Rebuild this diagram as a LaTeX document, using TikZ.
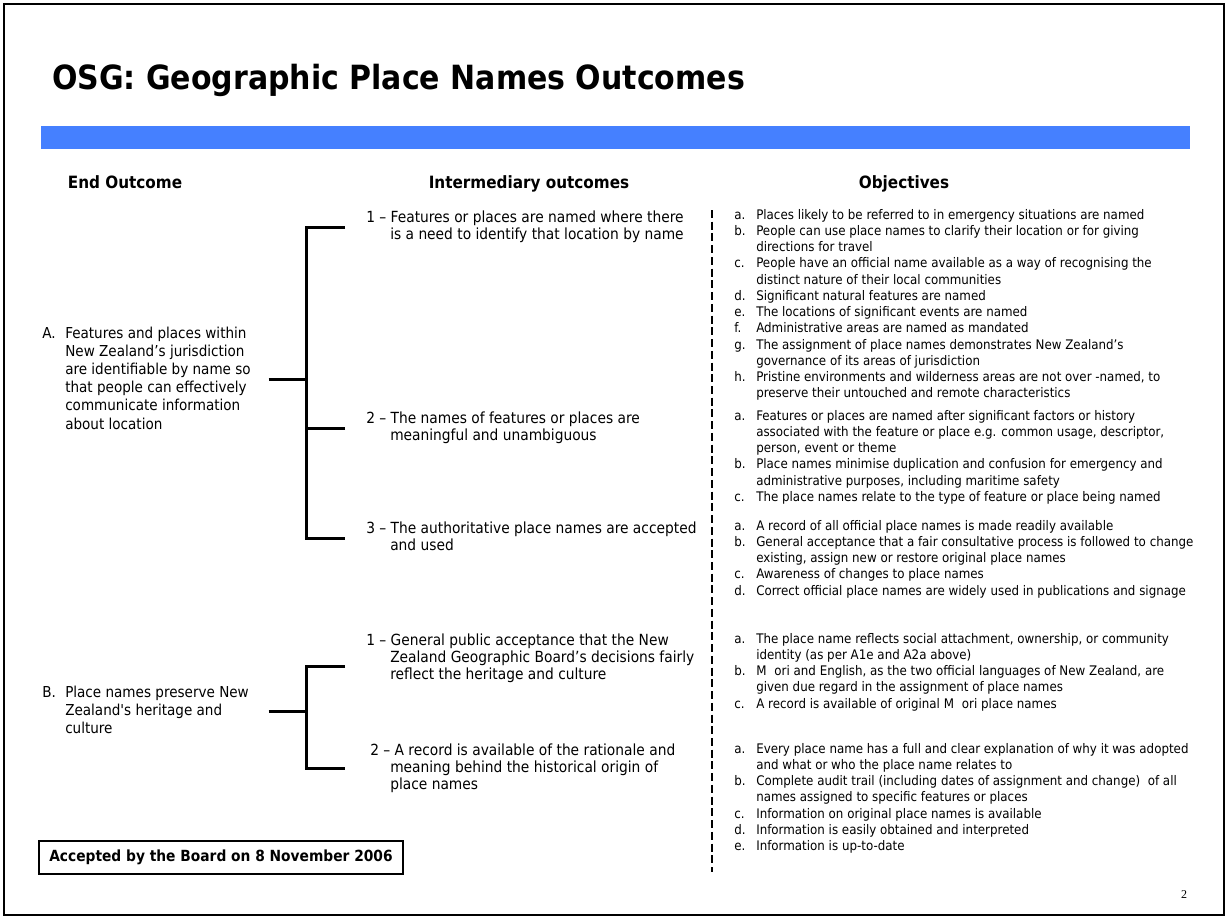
\documentclass[tikz,border=0pt]{standalone}
\usepackage{fontspec}
\newfontfamily\bodyFont{DejaVu Sans Condensed}
\newfontfamily\pageNumFont{Liberation Serif}
\usetikzlibrary{positioning}
\definecolor{mainBlack}{gray}{0}
\definecolor{osgBlue}{HTML}{4580FF}
\newcommand{\itm}[1]{\makebox[16.5pt][l]{#1}}
\newcommand{\outItm}[1]{\makebox[17.25pt][l]{#1}}
\newcommand{\rows}[2][l]{\begin{tabular}[t]{@{}#1@{}}#2\end{tabular}}

\tikzset{
  headText/.style={anchor=base, inner sep=0pt, font=\bodyFont\bfseries\fontsize{12.7}{15}\selectfont},
  endText/.style={anchor=base west, inner sep=0pt, font=\bodyFont\fontsize{11.3}{13.65}\selectfont},
  midText/.style={anchor=base west, inner xsep=15.75pt, inner ysep=0pt, font=\bodyFont\fontsize{11.5}{13}\selectfont},
  objText/.style={anchor=base west, inner sep=0pt, font=\bodyFont\fontsize{9.9}{12.2}\selectfont},
  link/.style={line width=2.25pt, mainBlack},
  divider/.style={line width=1.7pt, dash pattern=on 6pt off 2.8pt, mainBlack}
}

\begin{document}
\begin{tikzpicture}[x=0.75pt, y=-0.75pt]
  \useasboundingbox (0,0) rectangle (1226,920);
  \draw[line width=1.5pt, mainBlack] (4,4) rectangle (1224,915);

  % title and bar
  \node[anchor=base west, inner sep=0pt, font=\bodyFont\bfseries\fontsize{25}{30}\selectfont] (title) at (52,90) {OSG: Geographic Place Names Outcomes};
  \fill[osgBlue] (41,126) rectangle (1190,149);

  % column heads
  \node[headText] (hEnd) at (125,188) {End Outcome};
  \node[headText] (hMid) at (529,188) {Intermediary outcomes};
  \node[headText] (hObj) at (904,188) {Objectives};

  % end outcomes
  \node[endText] (endA) at (42,338) {\rows[p{169.5pt}]{%
    \outItm{A.}Features and places within\\
    \outItm{}New Zealand’s jurisdiction\\
    \outItm{}are identifiable by name so\\
    \outItm{}that people can effectively\\
    \outItm{}communicate information\\
    \outItm{}about location}};
  \node[endText] (endB) at (42,697) {\rows[p{169.5pt}]{%
    \outItm{B.}Place names preserve New\\
    \outItm{}Zealand's heritage and\\
    \outItm{}culture}};

  % intermediary outcomes
  \node[midText] (midA1) at (345,222) {\rows{%
    1 – Features or places are named where there\\
    \hspace*{18pt}is a need to identify that location by name}};
  \node[midText] (midA2) at (345,423) {\rows{%
    2 – The names of features or places are\\
    \hspace*{18pt}meaningful and unambiguous}};
  \node[midText] (midA3) at (345,533) {\rows{%
    3 – The authoritative place names are accepted\\
    \hspace*{18pt}and used}};
  \node[midText] (midB1) at (345,645) {\rows{%
    1 – General public acceptance that the New\\
    \hspace*{18pt}Zealand Geographic Board’s decisions fairly\\
    \hspace*{18pt}reflect the heritage and culture}};
  \node[midText] (midB2) at (345,755) {\rows{%
    \hspace*{3pt}2 – A record is available of the rationale and\\
    \hspace*{18pt}meaning behind the historical origin of\\
    \hspace*{18pt}place names}};

  % brackets
  \coordinate (jointX) at (306,0);
  \draw[link] (endA.east) -- (endA.east -| jointX);
  \draw[link] (midA1.west) -| (jointX |- endA.east) |- (midA3.west);
  \draw[link] (midA2.west) -- (midA2.west -| jointX);
  \draw[link] (endB.east) -- (endB.east -| jointX);
  \draw[link] ([yshift=-6pt]midB1.west) -| (jointX |- endB.east) |- (midB2.west);

  % objectives
  \draw[divider] (712,210) -- (712,872);
  \node[objText] (objA1) at (734,219) {\rows{%
    \itm{a.}Places likely to be referred to in emergency situations are named\\
    \itm{b.}People can use place names to clarify their location or for giving\\
    \itm{}directions for travel\\
    \itm{c.}People have an official name available as a way of recognising the\\
    \itm{}distinct nature of their local communities\\
    \itm{d.}Significant natural features are named\\
    \itm{e.}The locations of significant events are named\\
    \itm{f.}Administrative areas are named as mandated\\
    \itm{g.}The assignment of place names demonstrates New Zealand’s\\
    \itm{}governance of its areas of jurisdiction\\
    \itm{h.}Pristine environments and wilderness areas are not over -named, to\\
    \itm{}preserve their untouched and remote characteristics}};
  \node[objText] (objA2) at (734,420) {\rows{%
    \itm{a.}Features or places are named after significant factors or history\\
    \itm{}associated with the feature or place e.g. common usage, descriptor,\\
    \itm{}person, event or theme\\
    \itm{b.}Place names minimise duplication and confusion for emergency and\\
    \itm{}administrative purposes, including maritime safety\\
    \itm{c.}The place names relate to the type of feature or place being named}};
  \node[objText] (objA3) at (734,530) {\rows{%
    \itm{a.}A record of all official place names is made readily available\\
    \itm{b.}General acceptance that a fair consultative process is followed to change\\
    \itm{}existing, assign new or restore original place names\\
    \itm{c.}Awareness of changes to place names\\
    \itm{d.}Correct official place names are widely used in publications and signage}};
  \node[objText] (objB1) at (734,643) {\rows{%
    \itm{a.}The place name reflects social attachment, ownership, or community\\
    \itm{}identity (as per A1e and A2a above)\\
    \itm{b.}M\hspace{0.6em}ori and English, as the two official languages of New Zealand, are\\
    \itm{}given due regard in the assignment of place names\\
    \itm{c.}A record is available of original M\hspace{0.6em}ori place names}};
  \node[objText] (objB2) at (734,753) {\rows{%
    \itm{a.}Every place name has a full and clear explanation of why it was adopted\\
    \itm{}and what or who the place name relates to\\
    \itm{b.}Complete audit trail (including dates of assignment and change)\ \ of all\\
    \itm{}names assigned to specific features or places\\
    \itm{c.}Information on original place names is available\\
    \itm{d.}Information is easily obtained and interpreted\\
    \itm{e.}Information is up-to-date}};

  % footer
  \node[draw, line width=1.5pt, minimum width=273pt, minimum height=24.75pt, inner sep=0pt,
        font=\bodyFont\bfseries\fontsize{11.5}{13}\selectfont] (accepted) at (221,857.5) {Accepted by the Board on 8 November 2006};
  \node[font=\pageNumFont\fontsize{9}{10}\selectfont] (pageNum) at (1184,895) {2};
\end{tikzpicture}
\end{document}
